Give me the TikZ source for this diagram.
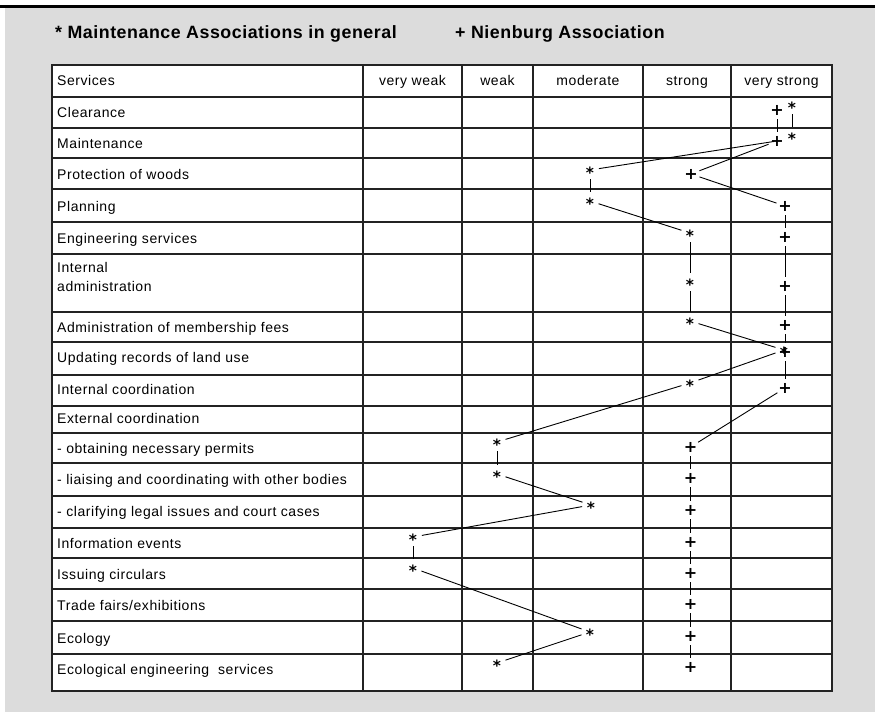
\documentclass[tikz,border=0pt]{standalone}
\usepackage{fontspec}
\setmainfont{Liberation Sans}
\newfontfamily\rowfont{Liberation Sans}[LetterSpace=4]
\newfontfamily\ttlfont{Liberation Sans}[LetterSpace=3]
\newfontfamily\markfont{DejaVu Sans}
\definecolor{panel}{RGB}{220,220,220}
\definecolor{rulecol}{RGB}{35,35,35}

\begin{document}
\begin{tikzpicture}[x=1pt,y=-1pt,
  rowtext/.style={anchor=base west, inner sep=0, font=\rowfont\fontsize{14}{19}\selectfont},
  coltext/.style={anchor=base, inner sep=0, font=\rowfont\fontsize{14}{19}\selectfont},
  ttl/.style={anchor=base west, inner sep=0, font=\ttlfont\bfseries\fontsize{17.8}{20}\selectfont},
  plusmark/.style={inner sep=0, font=\markfont\bfseries\fontsize{16}{16}\selectfont},
  starmark/.style={inner sep=0, yshift=-2.7pt, font=\markfont\bfseries\fontsize{15.5}{16}\selectfont},
  trend/.style={line width=0.9pt, shorten <=9pt, shorten >=9pt},
  tablerule/.style={line width=1.4pt, draw=rulecol}]

\useasboundingbox (0,0) rectangle (879,712);

% panel and top bar
\fill[panel] (5,8) rectangle (875,712);
\fill[black] (0,5) rectangle (875,8);

% legend
\node[ttl] (legstar) at (55,38.5) {* Maintenance Associations in general};
\node[ttl] (legplus) at (455,38.5) {+ Nienburg Association};

% table body and rules
\fill[white] (52,65) rectangle (832,691);
\foreach \yy in {97,128,158,189,222,254,312,342,375,406,433,463,496,528,558,589,621,654}
  \draw[tablerule] (52,\yy) -- (832,\yy);
\foreach \xx in {363,462,533,643,731}
  \draw[tablerule] (\xx,65) -- (\xx,691);
\draw[tablerule] (52,65) rectangle (832,691);

% column headings
\node[rowtext] (hserv) at (57,85) {Services};
\node[coltext] (hvw) at (412.5,85) {very weak};
\node[coltext] (hw) at (497.5,85) {weak};
\node[coltext] (hm) at (588,85) {moderate};
\node[coltext] (hs) at (687,85) {strong};
\node[coltext] (hvs) at (781.5,85) {very strong};

% services
\node[rowtext] (r1) at (57,117) {Clearance};
\node[rowtext] (r2) at (57,148) {Maintenance};
\node[rowtext] (r3) at (57,179) {Protection of woods};
\node[rowtext] (r4) at (57,211) {Planning};
\node[rowtext] (r5) at (57,243) {Engineering services};
\node[rowtext, anchor=west, align=left] (r6) at (57,277) {Internal\\administration};
\node[rowtext] (r7) at (57,332) {Administration of membership fees};
\node[rowtext] (r8) at (57,362.5) {Updating records of land use};
\node[rowtext] (r9) at (57,394) {Internal coordination};
\node[rowtext] (r10) at (57,423) {External coordination};
\node[rowtext] (r11) at (57,453) {- obtaining necessary permits};
\node[rowtext] (r12) at (57,484.5) {- liaising and coordinating with other bodies};
\node[rowtext] (r13) at (57,516) {- clarifying legal issues and court cases};
\node[rowtext] (r14) at (57,548) {Information events};
\node[rowtext] (r15) at (57,579.5) {Issuing circulars};
\node[rowtext] (r16) at (57,610.5) {Trade fairs/exhibitions};
\node[rowtext] (r17) at (57,643) {Ecology};
\node[rowtext] (r18) at (57,674) {Ecological engineering~ services};

% data points: maintenance associations in general (*)
\coordinate (s1) at (792,105);
\coordinate (s2) at (792,136);
\coordinate (s3) at (590,170);
\coordinate (s4) at (590,201);
\coordinate (s5) at (690,233);
\coordinate (s6) at (690,282);
\coordinate (s7) at (690,321);
\coordinate (s8) at (784,350);
\coordinate (s9) at (690,383);
\coordinate (s10) at (497,442);
\coordinate (s11) at (497,474);
\coordinate (s12) at (591,505);
\coordinate (s13) at (413,537);
\coordinate (s14) at (413,568);
\coordinate (s15) at (590,632);
\coordinate (s16) at (497,663);

% data points: Nienburg association (+)
\coordinate (p1) at (777,110);
\coordinate (p2) at (777,141);
\coordinate (p3) at (691,174);
\coordinate (p4) at (785,206);
\coordinate (p5) at (785,237);
\coordinate (p6) at (785,286);
\coordinate (p7) at (785,325);
\coordinate (p8) at (785,352);
\coordinate (p9) at (785,388);
\coordinate (p10) at (690.5,447);
\coordinate (p11) at (690.5,478);
\coordinate (p12) at (690.5,510);
\coordinate (p13) at (690.5,542);
\coordinate (p14) at (690.5,573);
\coordinate (p15) at (690.5,604);
\coordinate (p16) at (690.5,636);
\coordinate (p17) at (690.5,667);

% profile of the associations in general
\draw[trend] (s1) -- (s2);
\draw[trend, shorten <=3pt] (p2) -- (s3);
\foreach \a/\b in {s3/s4,s4/s5,s5/s6,s6/s7,s7/s8,s8/s9,s9/s10,s10/s11,s11/s12,s12/s13,s13/s14,s14/s15,s15/s16}
  \draw[trend] (\a) -- (\b);

% profile of the Nienburg association
\foreach \a/\b in {p1/p2,p2/p3,p3/p4,p4/p5,p5/p6,p6/p7,p7/p8,p8/p9,p9/p10,p10/p11,p11/p12,p12/p13,p13/p14,p14/p15,p15/p16,p16/p17}
  \draw[trend] (\a) -- (\b);

% markers
\foreach \c in {s1,s2,s3,s4,s5,s6,s7,s8,s9,s10,s11,s12,s13,s14,s15,s16}
  \node[starmark] (m\c) at (\c) {*};
\foreach \c in {p1,p2,p3,p4,p5,p6,p7,p8,p9,p10,p11,p12,p13,p14,p15,p16,p17}
  \node[plusmark] (m\c) at (\c) {+};

\end{tikzpicture}
\end{document}
